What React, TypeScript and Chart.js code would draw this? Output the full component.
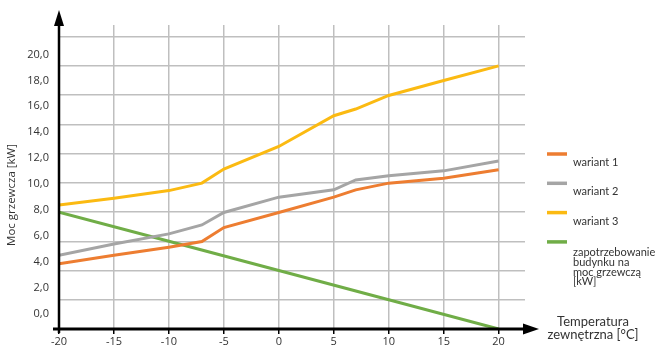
import React, { useEffect, useRef } from "react";
import { Chart, registerables } from "chart.js";

Chart.register(...registerables);

const temps = [-20, -15, -10, -7, -5, 0, 5, 7, 10, 15, 20];
const wariant1 = [4.47, 5.05, 5.6, 5.98, 6.94, 7.97, 9.02, 9.52, 9.98, 10.32, 10.9];
const wariant2 = [5.05, 5.82, 6.51, 7.12, 7.97, 9.02, 9.52, 10.2, 10.48, 10.82, 11.5];
const wariant3 = [8.49, 8.95, 9.47, 9.98, 10.94, 12.49, 14.59, 15.05, 15.98, 17.0, 18.0];
const demandTemps = [-20, -10, 0, 10, 20];
const demand = [8, 6, 4, 2, 0];

const xTicks = [-20, -15, -10, -5, 0, 5, 10, 15, 20];
const yTicks = [0, 2, 4, 6, 8, 10, 12, 14, 16, 18, 20];

const seriesLabels = [
  "wariant 1",
  "wariant 2",
  "wariant 3",
  "zapotrzebowanie\nbudynku na\nmoc grzewczą\n[kW]",
];
const seriesColors = ["#ED7D31", "#A5A5A5", "#FBBA12", "#70AD47"];

const xTitle = ["Temperatura", "zewnętrzna [°C]"];
const yTitle = "Moc grzewcza [kW]";

const FONT = "'Open Sans', 'DejaVu Sans', sans-serif";
const LFONT = "Lato, 'Open Sans', sans-serif";
const TEXT = "#333333";

const decor = {
  id: "decor",
  afterDraw(chart: any) {
    const { ctx, chartArea: a } = chart;
    ctx.save();
    ctx.fillStyle = "#000";
    ctx.strokeStyle = "#000";
    // y axis + arrow
    ctx.lineWidth = 2.5;
    ctx.beginPath();
    ctx.moveTo(a.left, a.bottom + 4);
    ctx.lineTo(a.left, 22);
    ctx.stroke();
    ctx.beginPath();
    ctx.moveTo(a.left, 10);
    ctx.lineTo(a.left - 5, 26);
    ctx.lineTo(a.left + 5, 26);
    ctx.closePath();
    ctx.fill();
    // x axis + arrow
    ctx.lineWidth = 3;
    ctx.beginPath();
    ctx.moveTo(a.left - 6, a.bottom);
    ctx.lineTo(526, a.bottom);
    ctx.stroke();
    ctx.beginPath();
    ctx.moveTo(539, a.bottom);
    ctx.lineTo(523, a.bottom - 5.5);
    ctx.lineTo(523, a.bottom + 5.5);
    ctx.closePath();
    ctx.fill();

    // x title
    ctx.fillStyle = TEXT;
    ctx.font = `13px ${LFONT}`;
    ctx.textAlign = "center";
    ctx.textBaseline = "middle";
    ctx.fillText(xTitle[0], 593, 322);
    ctx.fillText(xTitle[1], 593, 335);

    // y title
    ctx.save();
    ctx.translate(12, 195);
    ctx.rotate(-Math.PI / 2);
    ctx.font = `11.5px ${FONT}`;
    ctx.fillText(yTitle, 0, 0);
    ctx.restore();

    // legend
    const top = 154;
    const step = 29.3;
    chart.data.datasets.forEach((ds: any, i: number) => {
      const y = top + i * step;
      ctx.strokeStyle = ds.borderColor;
      ctx.lineWidth = 3.5;
      ctx.beginPath();
      ctx.moveTo(547, y);
      ctx.lineTo(567, y);
      ctx.stroke();
      ctx.fillStyle = TEXT;
      ctx.font = `11px ${LFONT}`;
      ctx.textAlign = "left";
      ctx.textBaseline = "middle";
      const lines = String(ds.label).split("\n");
      const off = lines.length > 1 ? 10.5 : 8.5;
      lines.forEach((line: string, j: number) => {
        ctx.fillText(line, 573, y + off + j * 9.8);
      });
    });
    ctx.restore();
  },
};

export default function App() {
  const ref = useRef<HTMLCanvasElement | null>(null);

  useEffect(() => {
    if (!ref.current) return;
    const mk = (xs: number[], ys: number[]) => xs.map((x, i) => ({ x, y: ys[i] }));
    const seriesData = [
      mk(temps, wariant1),
      mk(temps, wariant2),
      mk(temps, wariant3),
      mk(demandTemps, demand),
    ];
    const chart = new Chart(ref.current, {
      type: "line",
      data: {
        datasets: seriesData.map((d, i) => ({
          label: seriesLabels[i],
          data: d,
          borderColor: seriesColors[i],
          backgroundColor: seriesColors[i],
          borderWidth: 3,
          pointRadius: 0,
          tension: 0,
          fill: false,
          yAxisID: "y",
        })),
      },
      options: {
        animation: false,
        responsive: false,
        devicePixelRatio: 1,
        layout: { padding: { top: 25, right: 139, bottom: 0, left: 0 } },
        plugins: {
          legend: { display: false },
          tooltip: { enabled: false },
        },
        scales: {
          x: {
            type: "linear",
            min: -20,
            max: 22.4,
            afterBuildTicks: (axis: any) => {
              axis.ticks = xTicks.map((v) => ({ value: v }));
            },
            afterFit: (axis: any) => {
              axis.height = 22;
            },
            border: { display: false },
            grid: {
              color: "#BFBFBF",
              lineWidth: 1.5,
              drawTicks: true,
              tickLength: 5,
              tickColor: "#000",
              tickWidth: 1.5,
            },
            ticks: {
              color: TEXT,
              font: { family: FONT, size: 11 },
              padding: 1,
              maxRotation: 0,
              callback: (v: any) => String(v),
            },
          },
          y: {
            type: "linear",
            position: "left",
            min: 0,
            max: 20.8,
            afterBuildTicks: (axis: any) => {
              axis.ticks = yTicks.map((v) => ({ value: v }));
            },
            afterFit: (axis: any) => {
              axis.width = 0;
            },
            border: { display: false },
            grid: { color: "#BFBFBF", lineWidth: 1.5, drawTicks: false },
            ticks: { display: false },
          },
          yLabels: {
            type: "linear",
            position: "left",
            min: -1.16,
            max: 22.27,
            afterBuildTicks: (axis: any) => {
              axis.ticks = yTicks.map((v) => ({ value: v }));
            },
            afterFit: (axis: any) => {
              axis.width = 59;
            },
            border: { display: false },
            grid: { display: false, drawTicks: false },
            ticks: {
              color: TEXT,
              font: { family: FONT, size: 11 },
              padding: 10,
              callback: (v: any) => Number(v).toFixed(1).replace(".", ","),
            },
          },
        },
      },
      plugins: [decor],
    });
    return () => chart.destroy();
  }, []);

  return (
    <div style={{ position: "fixed", left: 0, top: 0, width: 664, height: 351, background: "#fff" }}>
      <canvas ref={ref} width={664} height={351} />
    </div>
  );
}
